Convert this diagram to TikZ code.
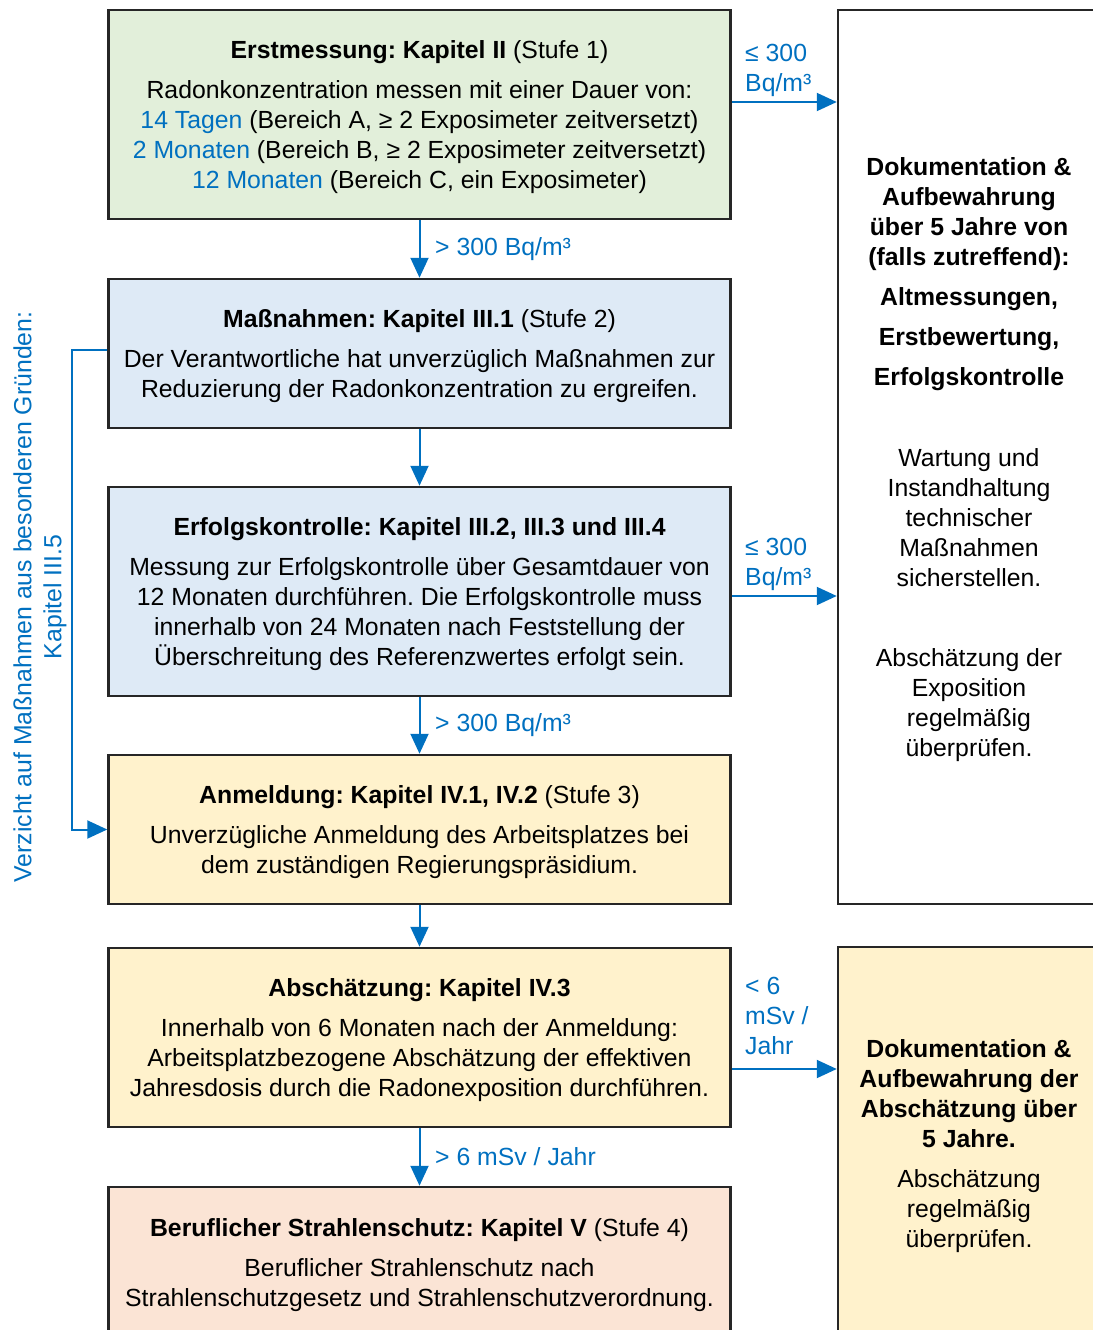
\documentclass[tikz,border=0pt]{standalone}
\usepackage{fontspec}
\setmainfont{Liberation Sans}
\usetikzlibrary{arrows.meta}
\definecolor{boxgreen}{HTML}{E2EFDA}
\definecolor{boxblue}{HTML}{DEEAF6}
\definecolor{boxyellow}{HTML}{FFF2CC}
\definecolor{boxrose}{HTML}{FBE4D5}
\definecolor{linkblue}{HTML}{0070C0}
\newcommand{\hl}[1]{\textcolor{linkblue}{#1}}
\newcommand{\lift}{\rule{0pt}{24pt}}
\frenchspacing

\begin{document}
\begin{tikzpicture}[x=1pt, y=-1pt]
      \tikzstyle{every node}=[font=\fontsize{24.8}{30}\selectfont, align=center, inner sep=0pt]
      \tikzstyle{stage}=[draw=black!85, line width=2.5pt, minimum width=622pt]
      \tikzstyle{flow}=[draw=linkblue, line width=2pt, -{Triangle[length=20pt, width=18pt]}]
      \tikzstyle{note}=[text=linkblue, align=left, anchor=west]

      \useasboundingbox (0,0) rectangle (1092,1330);

      \path (419.5,114.5) node[stage, fill=boxgreen, minimum height=209pt] (b1)
        {\lift\textbf{Erstmessung: Kapitel II} (Stufe 1)\\[10pt]
         Radonkonzentration messen mit einer Dauer von:\\
         \hl{14 Tagen} (Bereich A, ≥ 2 Exposimeter zeitversetzt)\\
         \hl{2 Monaten} (Bereich B, ≥ 2 Exposimeter zeitversetzt)\\
         \hl{12 Monaten} (Bereich C, ein Exposimeter)};
      \path (419.5,353.5) node[stage, fill=boxblue, minimum height=149pt] (b2)
        {\lift\textbf{Maßnahmen: Kapitel III.1} (Stufe 2)\\[10pt]
         Der Verantwortliche hat unverzüglich Maßnahmen zur\\
         Reduzierung der Radonkonzentration zu ergreifen.};
      \path (419.5,591.5) node[stage, fill=boxblue, minimum height=209pt] (b3)
        {\lift\textbf{Erfolgskontrolle: Kapitel III.2, III.3 und III.4}\\[10pt]
         Messung zur Erfolgskontrolle über Gesamtdauer von\\
         12 Monaten durchführen. Die Erfolgskontrolle muss\\
         innerhalb von 24 Monaten nach Feststellung der\\
         Überschreitung des Referenzwertes erfolgt sein.};
      \path (419.5,829.5) node[stage, fill=boxyellow, minimum height=149pt] (b4)
        {\lift\textbf{Anmeldung: Kapitel IV.1, IV.2} (Stufe 3)\\[10pt]
         Unverzügliche Anmeldung des Arbeitsplatzes bei\\
         dem zuständigen Regierungspräsidium.};
      \path (419.5,1037.5) node[stage, fill=boxyellow, minimum height=179pt] (b5)
        {\lift\textbf{Abschätzung: Kapitel IV.3}\\[10pt]
         Innerhalb von 6 Monaten nach der Anmeldung:\\
         Arbeitsplatzbezogene Abschätzung der effektiven\\
         Jahresdosis durch die Radonexposition durchführen.};
      \path (419.5,1262) node[stage, fill=boxrose, minimum height=150pt] (b6)
        {\lift\textbf{Beruflicher Strahlenschutz: Kapitel V} (Stufe 4)\\[10pt]
         Beruflicher Strahlenschutz nach\\
         Strahlenschutzgesetz und Strahlenschutzverordnung.};

      \path (969,457) node[stage, fill=white, minimum width=262pt, minimum height=894pt] (r1)
        {\lift\textbf{Dokumentation \&}\\
         \textbf{Aufbewahrung}\\
         \textbf{über 5 Jahre von}\\
         \textbf{(falls zutreffend):}\\[10pt]
         \textbf{Altmessungen,}\\[10pt]
         \textbf{Erstbewertung,}\\[10pt]
         \textbf{Erfolgskontrolle}\\[51pt]
         Wartung und\\ Instandhaltung\\ technischer\\ Maßnahmen\\ sicherstellen.\\[50pt]
         Abschätzung der\\ Exposition\\ regelmäßig\\ überprüfen.};
      \path (969,1143) node[stage, fill=boxyellow, minimum width=262pt, minimum height=392pt] (r2)
        {\lift\textbf{Dokumentation \&}\\
         \textbf{Aufbewahrung der}\\
         \textbf{Abschätzung über}\\
         \textbf{5 Jahre.}\\[10pt]
         Abschätzung\\ regelmäßig\\ überprüfen.};

      \foreach \a/\b in {b1/b2, b2/b3, b3/b4, b4/b5, b5/b6}
      {
        \draw[flow] (\a.south) -- (\b.north);
      }

      \draw[flow]
        (b1.east |- 0,102) -- (r1.west |- 0,102);
      \draw[flow]
        (b3.east |- 0,596) -- (r1.west |- 0,596);
      \draw[flow]
        (b5.east |- 0,1069) -- (r2.west |- 0,1069);
      \draw[flow]
        (b2.west |- 0,350) -- ++(-35,0) |- (b4.west);

      \path (745,67) node[note] (q1) {\lift≤ 300\\Bq/m³};
      \path (435,246) node[note] (q2) {\lift> 300 Bq/m³};
      \path (745,561) node[note] (q3) {\lift≤ 300\\Bq/m³};
      \path (435,722) node[note] (q4) {\lift> 300 Bq/m³};
      \path (745,1013) node[note] (q5) {\lift< 6\\mSv /\\Jahr};
      \path (435,1154) node[note] (q6) {\lift> 6 mSv / Jahr};
      \path (37,597) node[text=linkblue, rotate=90] (q7)
        {\lift Verzicht auf Maßnahmen aus besonderen Gründen:\\Kapitel III.5};
    \end{tikzpicture}
\end{document}
